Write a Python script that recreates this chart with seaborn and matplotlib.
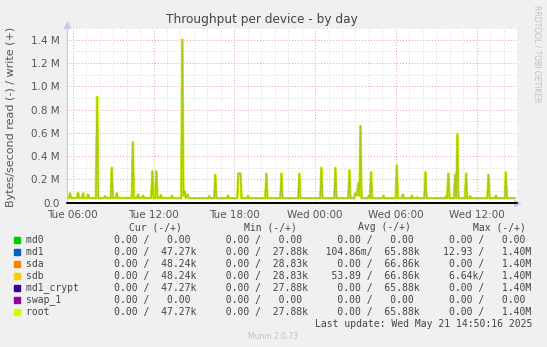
import matplotlib
matplotlib.use("Agg")
import matplotlib.pyplot as plt
import matplotlib.ticker as mticker
import numpy as np
import pandas as pd
import seaborn as sns

# ---------------- data ----------------
# hours since Tue 00:00, write bytes/s (k) of the disk stack (root / md1 / md1_crypt / sda / sdb)
hours = [5.62,
         5.72, 5.80, 5.88, 6.31, 6.39, 6.47, 6.69, 6.77, 6.85, 7.06, 7.14, 7.22,
         7.72, 7.81, 7.90, 8.32, 8.40, 8.48, 8.82, 8.90, 8.98, 9.19, 9.27, 9.35,
         10.38, 10.46, 10.54, 10.77, 10.85, 10.93, 11.14, 11.22, 11.30,
         11.83, 11.91, 11.99, 12.13, 12.21, 12.29, 12.46, 12.54, 12.62,
         13.28, 13.36, 13.44, 14.06, 14.14, 14.22, 14.31, 14.39, 14.54, 14.62,
         16.05, 16.13, 16.21, 16.51, 16.59, 16.67, 17.46, 17.54, 17.62,
         18.22, 18.30, 18.46, 18.54, 18.94, 19.02, 19.10,
         20.30, 20.38, 20.46, 21.42, 21.50, 21.58, 22.75, 22.83, 22.91,
         24.39, 24.47, 24.55, 25.43, 25.51, 25.59, 26.47, 26.55, 26.63,
         26.89, 26.97, 27.10, 27.22, 27.30, 27.37, 27.45,
         27.91, 27.99, 28.08, 28.16, 28.24, 29.00, 29.08, 29.16,
         29.99, 30.07, 30.15, 30.44, 30.52, 30.60, 31.11, 31.19, 31.27,
         31.48, 31.56, 31.64, 32.12, 32.20, 32.28,
         33.65, 33.73, 33.81, 33.90, 33.98, 34.32, 34.40, 34.48, 34.57, 34.65,
         35.14, 35.22, 35.30, 35.44, 35.52, 35.60, 36.80, 36.88, 36.96,
         37.35, 37.43, 37.51, 38.09, 38.17, 38.25, 38.85]
write_k = [40,
           40, 80, 40, 40, 85, 40, 40, 80, 40, 40, 70, 40,
           38, 910, 38, 40, 55, 40, 40, 300, 40, 40, 80, 40,
           40, 520, 40, 40, 70, 40, 40, 60, 40,
           40, 270, 40, 40, 270, 40, 40, 65, 40,
           40, 60, 40, 38, 1400, 60, 100, 40, 70, 38,
           38, 55, 38, 38, 240, 38, 38, 60, 38,
           38, 250, 250, 38, 38, 60, 38,
           38, 250, 38, 38, 250, 38, 38, 250, 38,
           38, 300, 38, 38, 300, 38, 38, 280, 38,
           38, 80, 60, 170, 60, 660, 38,
           38, 60, 38, 260, 38, 38, 60, 38,
           38, 320, 38, 38, 70, 38, 38, 60, 38,
           38, 45, 38, 38, 260, 38,
           38, 55, 38, 250, 38, 38, 240, 38, 590, 38,
           38, 250, 38, 38, 55, 38, 38, 240, 38,
           38, 60, 38, 38, 260, 38, 38]

devices = ["md0", "md1", "sda", "sdb", "md1_crypt", "swap_1", "root"]
colors = ["#00CC00", "#0066B3", "#FF8000", "#FFCC00", "#330099", "#990099", "#CCFF00"]
active = ["md1", "sda", "sdb", "md1_crypt", "root"]

cur_read = ["0.00", "0.00", "0.00", "0.00", "0.00", "0.00", "0.00"]
cur_write = ["0.00", "47.27k", "48.24k", "48.24k", "47.27k", "0.00", "47.27k"]
min_read = ["0.00", "0.00", "0.00", "0.00", "0.00", "0.00", "0.00"]
min_write = ["0.00", "27.88k", "28.83k", "28.83k", "27.88k", "0.00", "27.88k"]
avg_read = ["0.00", "104.86m", "0.00", "53.89", "0.00", "0.00", "0.00"]
avg_write = ["0.00", "65.88k", "66.86k", "66.86k", "65.88k", "0.00", "65.88k"]
max_read = ["0.00", "12.93", "0.00", "6.64k", "0.00", "0.00", "0.00"]
max_write = ["0.00", "1.40M", "1.40M", "1.40M", "1.40M", "0.00", "1.40M"]

title = "Throughput per device - by day"
ylabel = "Bytes/second read (-) / write (+)"
last_update = "Last update: Wed May 21 14:50:16 2025"

# ---------------- build table ----------------
rows = []
for d in devices:
    for h, v in zip(hours, write_k):
        rows.append({"device": d, "hours": h,
                     "bytes": v * 1e3 if d in active else 0.0})
df = pd.DataFrame(rows)

# ---------------- figure ----------------
sns.set_theme(style="white")
plt.rcParams["font.family"] = ["DejaVu Sans"]
BG = "#F0F0F0"
W, H = 547, 347
fig = plt.figure(figsize=(W / 100, H / 100), dpi=100, facecolor=BG)

L, R, T, B = 66.7, 517.0, 28.0, 202.7
ax = fig.add_axes([L / W, 1 - B / H, (R - L) / W, (B - T) / H])
ax.set_facecolor("white")

under = df[df["device"] != "root"]
top = df[df["device"] == "root"]
sns.lineplot(data=under, x="hours", y="bytes", hue="device", hue_order=devices[:-1],
             palette=colors[:-1], estimator=None, sort=False, legend=False,
             linewidth=1.0, ax=ax)
sns.lineplot(data=top, x="hours", y="bytes", color=colors[-1], estimator=None,
             sort=False, legend=False, linewidth=2.0, alpha=0.78, ax=ax)

ax.set_xlim(5.55, 39.0)
ax.set_ylim(0, 1.5e6)

ax.xaxis.set_major_locator(mticker.MultipleLocator(6))
ax.xaxis.set_minor_locator(mticker.MultipleLocator(1))
ax.yaxis.set_major_locator(mticker.MultipleLocator(2e5))
ax.yaxis.set_minor_locator(mticker.MultipleLocator(1e5))

def xfmt(v, pos):
    day = ["Tue", "Wed", "Thu"][int(v // 24)]
    return f"{day} {int(v % 24):02d}:00"

def yfmt(v, pos):
    return "0.0" if v == 0 else f"{v / 1e6:.1f} M"

ax.xaxis.set_major_formatter(mticker.FuncFormatter(xfmt))
ax.yaxis.set_major_formatter(mticker.FuncFormatter(yfmt))

ax.grid(which="minor", color="#D8D8D8", linestyle=(0, (1, 2)), linewidth=0.7)
ax.grid(which="major", color="#E8A0A0", linestyle=(0, (1, 2)), linewidth=0.7)
ax.set_axisbelow(True)

for s in ["top", "right", "bottom"]:
    ax.spines[s].set_visible(False)
ax.spines["left"].set_color("#C8C8E8")
ax.spines["left"].set_linewidth(0.8)

ax.tick_params(axis="both", which="both", labelsize=7.5, labelcolor="#555555",
               length=2, width=0.7, pad=3)
ax.tick_params(axis="x", which="major", colors="#E08080", labelcolor="#555555")
ax.tick_params(axis="x", which="minor", colors="#C0C0C0")
ax.tick_params(axis="y", which="major", colors="#E08080", labelcolor="#555555")
ax.tick_params(axis="y", which="minor", colors="#C0C0C0")
ax.set_xlabel("")
ax.set_ylabel(ylabel, fontsize=8, color="#555555")
ax.yaxis.set_label_coords((16 - L) / (R - L), (B - 117) / (B - T),
                          transform=ax.transAxes)

ax.axhline(0, color="black", linewidth=1.4, clip_on=False, zorder=5)
ax.plot([1.0], [0], marker=">", markersize=4, color="#C8C8F0",
        transform=ax.transAxes, clip_on=False)
ax.plot([0.0], [1.02], marker="^", markersize=4, color="#C8C8F0",
        transform=ax.transAxes, clip_on=False)

fig.text(262 / W, 1 - 19.5 / H, title, ha="center", va="center",
         fontsize=8.7, color="#444444")
fig.text(537 / W, 1 - 5 / H, "RRDTOOL / TOBI OETIKER", rotation=270,
         ha="center", va="top", fontsize=5.5, color="#C0C0C0")

# ---------------- legend table ----------------
mono = "DejaVu Sans Mono"
fs = 7.05
x0 = 26.0
headers = ["Cur (-/+)", "Min (-/+)", "Avg (-/+)", "Max (-/+)"]
hx = [129.3, 243.8, 358.3, 472.8]
for hh, xx in zip(headers, hx):
    fig.text(xx / W, 1 - 227.3 / H, hh, ha="left", va="center",
             family=mono, fontsize=fs, color="#444444")

def split(v):
    if v[-1] in "kMm":
        return v[:-1], v[-1]
    return v, " "

def col(r, w):
    rn, rs = split(r)
    wn, ws = split(w)
    return f"{rn:>6}{rs}/ {wn:>6}{ws}"

for i, d in enumerate(devices):
    y = 239.7 + 12 * i
    fig.patches.append(plt.Rectangle((14 / W, 1 - (y + 3.2) / H), 6.3 / W, 6.3 / H,
                                     transform=fig.transFigure, color=colors[i]))
    line = (f"{d:<13}" + col(cur_read[i], cur_write[i]) + "   "
            + col(min_read[i], min_write[i]) + "   "
            + col(avg_read[i], avg_write[i]) + "   "
            + col(max_read[i], max_write[i]))
    fig.text(x0 / W, 1 - y / H, line, ha="left", va="center",
             family=mono, fontsize=fs, color="#444444")

fig.text(532.7 / W, 1 - 323.7 / H, last_update, ha="right", va="center",
         family=mono, fontsize=fs, color="#444444")
fig.text(273 / W, 1 - 336.5 / H, "Munin 2.0.73", ha="center", va="center",
         fontsize=5.5, color="#C0C0C0")

fig.savefig("out.png", dpi=100, facecolor=BG)
